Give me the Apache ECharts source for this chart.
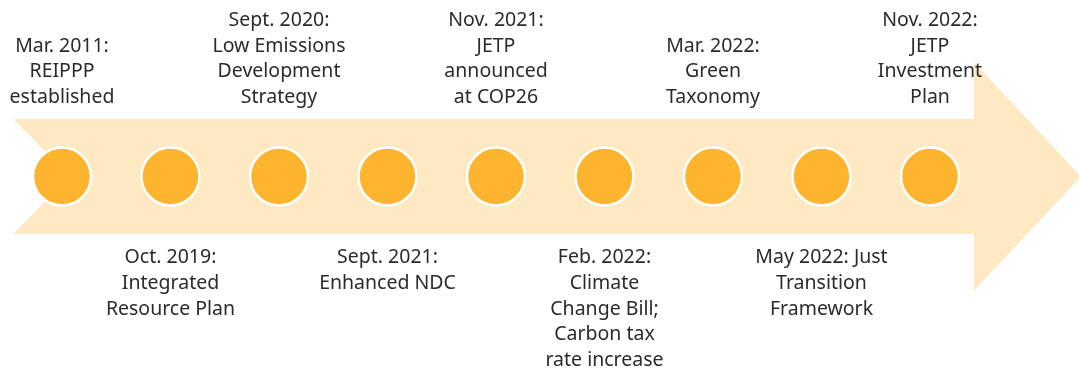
<!DOCTYPE html>
<html>
<head>
<meta charset="utf-8">
<style>
  html, body { margin: 0; padding: 0; background: #ffffff; }
  #chart { width: 1079px; height: 371px; }
</style>
<script src="https://cdn.jsdelivr.net/npm/echarts@6/dist/echarts.min.js"></script>
</head>
<body>
<div id="chart"></div>
<script>
// Milestones along the timeline, in order
const milestones = [
  'Mar. 2011:\nREIPPP\nestablished',
  'Oct. 2019:\nIntegrated\nResource Plan',
  'Sept. 2020:\nLow Emissions\nDevelopment\nStrategy',
  'Sept. 2021:\nEnhanced NDC',
  'Nov. 2021:\nJETP\nannounced\nat COP26',
  'Feb. 2022:\nClimate\nChange Bill;\nCarbon tax\nrate increase',
  'Mar. 2022:\nGreen\nTaxonomy',
  'May 2022: Just\nTransition\nFramework',
  'Nov. 2022:\nJETP\nInvestment\nPlan'
];
// Which side of the arrow each caption sits on
const sides = ['top', 'bottom', 'top', 'bottom', 'top', 'bottom', 'top', 'bottom', 'top'];
// Every milestone sits on the arrow's centre line
const lineLevel = [0, 0, 0, 0, 0, 0, 0, 0, 0];

const chart = echarts.init(document.getElementById('chart'));

const points = milestones.map((m, i) => ({
  value: [i, lineLevel[i]],
  label: {
    show: true,
    position: sides[i],
    distance: sides[i] === 'top' ? 36 : 38,
    formatter: m
  }
}));

// Arrow band drawn behind the milestones, anchored to the first and last points
function renderArrow(params, api) {
  const first = api.coord([0, 0]);
  const last = api.coord([milestones.length - 1, 0]);
  const cy = first[1];
  const bodyHalf = 57.5;
  const headHalf = 114;
  const tailX = first[0] - 49;
  const notch = 57;
  const shoulderX = last[0] + 44;
  const tipX = last[0] + 151;
  return {
    type: 'polygon',
    shape: {
      points: [
        [tailX, cy - bodyHalf],
        [shoulderX, cy - bodyHalf],
        [shoulderX, cy - headHalf],
        [tipX, cy],
        [shoulderX, cy + headHalf],
        [shoulderX, cy + bodyHalf],
        [tailX, cy + bodyHalf],
        [tailX + notch, cy]
      ]
    },
    style: { fill: '#FEE9C2' },
    silent: true
  };
}

chart.setOption({
  animation: false,
  grid: { left: 0, right: 0, top: 0, bottom: 0 },
  xAxis: {
    type: 'value',
    min: -0.5714,
    max: 9.3733,
    show: false
  },
  yAxis: {
    type: 'value',
    min: -176.5,
    max: 194.5,
    inverse: true,
    show: false
  },
  series: [
    {
      type: 'custom',
      renderItem: renderArrow,
      data: [[0, 0]],
      z: 1
    },
    {
      type: 'scatter',
      data: points,
      symbol: 'circle',
      symbolSize: 58,
      itemStyle: {
        color: '#FDB52F',
        borderColor: '#ffffff',
        borderWidth: 2.5,
        opacity: 1
      },
      label: {
        color: '#2b2b2b',
        fontFamily: 'Noto Sans',
        fontSize: 19.5,
        lineHeight: 25.7,
        align: 'center'
      },
      z: 2
    }
  ]
});
</script>
</body>
</html>
